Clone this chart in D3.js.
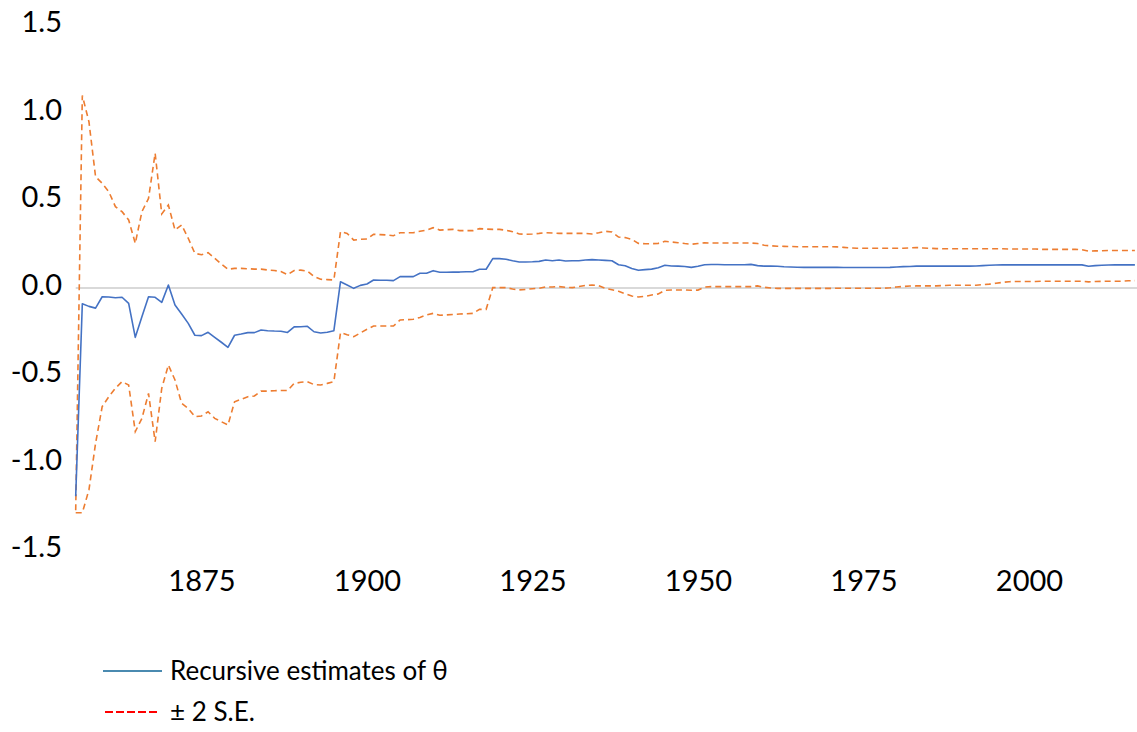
<!DOCTYPE html>
<html>
<head>
<meta charset="utf-8">
<script src="https://cdn.jsdelivr.net/npm/d3@7"></script>
<style>
  body { margin: 0; background: #fff; }
  text { font-family: Lato, "Open Sans", sans-serif; fill: #000; }
</style>
</head>
<body>
<svg id="chart" width="1137" height="732"></svg>
<script>
const firstYear = 1856
const xTicks = [1875, 1900, 1925, 1950, 1975, 2000]
const yTicks = [-1.5, -1.0, -0.5, 0.0, 0.5, 1.0, 1.5]

const theta = [
  -1.19, -0.09, -0.105, -0.115, -0.05, -0.051, -0.056, -0.053, -0.088, -0.282,
  -0.164, -0.05, -0.053, -0.082, 0.017, -0.097, -0.149, -0.202, -0.27, -0.272,
  -0.253, -0.282, -0.31, -0.339, -0.27, -0.263, -0.255, -0.255, -0.24, -0.244,
  -0.246, -0.247, -0.254, -0.222, -0.221, -0.219, -0.25, -0.257, -0.253, -0.244,
  0.036, 0.017, -0.002, 0.015, 0.023, 0.046, 0.044, 0.044, 0.042, 0.065,
  0.065, 0.065, 0.084, 0.084, 0.099, 0.09, 0.09, 0.091, 0.091, 0.093,
  0.093, 0.107, 0.107, 0.168, 0.168, 0.164, 0.156, 0.149, 0.149, 0.15,
  0.152, 0.16, 0.156, 0.16, 0.154, 0.156, 0.156, 0.16, 0.162, 0.16,
  0.158, 0.156, 0.133, 0.127, 0.112, 0.101, 0.105, 0.108, 0.116, 0.13,
  0.126, 0.125, 0.123, 0.118, 0.124, 0.133, 0.134, 0.134, 0.133, 0.133,
  0.133, 0.133, 0.135, 0.128, 0.125, 0.125, 0.124, 0.121, 0.12, 0.119,
  0.118, 0.118, 0.118, 0.118, 0.118, 0.118, 0.117, 0.117, 0.117, 0.117,
  0.117, 0.117, 0.117, 0.118, 0.12, 0.122, 0.123, 0.125, 0.125, 0.125,
  0.125, 0.125, 0.125, 0.125, 0.125, 0.125, 0.126, 0.128, 0.13, 0.131,
  0.132, 0.132, 0.132, 0.132, 0.132, 0.132, 0.132, 0.132, 0.132, 0.132,
  0.132, 0.132, 0.132, 0.124, 0.128, 0.13, 0.131, 0.132, 0.132, 0.132, 0.132
]

const upper = [
  -1.27, 1.10, 0.95, 0.636, 0.598, 0.55, 0.465, 0.436, 0.389, 0.255,
  0.436, 0.512, 0.77, 0.423, 0.474, 0.331, 0.36, 0.284, 0.198, 0.19,
  0.202, 0.17, 0.137, 0.107, 0.112, 0.112, 0.11, 0.108, 0.108, 0.103,
  0.1, 0.094, 0.076, 0.1, 0.102, 0.097, 0.065, 0.05, 0.048, 0.046,
  0.322, 0.312, 0.274, 0.278, 0.28, 0.307, 0.305, 0.303, 0.299, 0.316,
  0.316, 0.316, 0.324, 0.331, 0.345, 0.331, 0.333, 0.335, 0.328, 0.328,
  0.328, 0.339, 0.337, 0.335, 0.335, 0.33, 0.322, 0.309, 0.307, 0.309,
  0.312, 0.316, 0.314, 0.312, 0.312, 0.312, 0.312, 0.312, 0.309, 0.316,
  0.324, 0.32, 0.291, 0.288, 0.278, 0.255, 0.253, 0.253, 0.255, 0.267,
  0.263, 0.259, 0.254, 0.25, 0.254, 0.258, 0.257, 0.257, 0.257, 0.257,
  0.257, 0.257, 0.257, 0.254, 0.244, 0.241, 0.239, 0.238, 0.237, 0.236,
  0.236, 0.236, 0.236, 0.236, 0.236, 0.235, 0.232, 0.229, 0.227, 0.227,
  0.227, 0.227, 0.227, 0.227, 0.227, 0.227, 0.229, 0.231, 0.229, 0.227,
  0.225, 0.224, 0.224, 0.224, 0.224, 0.224, 0.224, 0.224, 0.224, 0.224,
  0.224, 0.223, 0.223, 0.223, 0.223, 0.223, 0.221, 0.221, 0.221, 0.221,
  0.221, 0.221, 0.219, 0.211, 0.212, 0.213, 0.214, 0.214, 0.214, 0.214, 0.214
]

const lower = [
  -1.284, -1.284, -1.154, -0.888, -0.678, -0.621, -0.573, -0.535, -0.554, -0.821,
  -0.745, -0.602, -0.878, -0.573, -0.44, -0.526, -0.659, -0.688, -0.735, -0.731,
  -0.707, -0.745, -0.764, -0.783, -0.65, -0.636, -0.621, -0.617, -0.589, -0.589,
  -0.587, -0.586, -0.586, -0.545, -0.539, -0.535, -0.552, -0.554, -0.545, -0.535,
  -0.255, -0.267, -0.278, -0.257, -0.236, -0.217, -0.217, -0.217, -0.217, -0.183,
  -0.181, -0.179, -0.168, -0.154, -0.145, -0.156, -0.154, -0.151, -0.149, -0.147,
  -0.145, -0.122, -0.122, 0.002, 0.002, 0.002, -0.006, -0.011, -0.008, -0.004,
  -0.002, 0.006, 0.006, 0.008, 0.004, 0.002, 0.008, 0.015, 0.017, 0.013,
  -0.002, -0.01, -0.019, -0.033, -0.046, -0.051, -0.048, -0.04, -0.034, -0.013,
  -0.011, -0.011, -0.011, -0.013, -0.012, 0.005, 0.008, 0.008, 0.008, 0.008,
  0.008, 0.008, 0.008, 0.012, 0.004, 0.0, -0.002, -0.002, -0.002, -0.002,
  -0.002, -0.002, -0.002, -0.002, -0.002, -0.001, -0.001, -0.001, -0.001, -0.001,
  -0.001, -0.001, -0.001, 0.001, 0.006, 0.009, 0.011, 0.012, 0.012, 0.012,
  0.012, 0.014, 0.016, 0.016, 0.016, 0.016, 0.016, 0.019, 0.022, 0.027,
  0.032, 0.036, 0.037, 0.037, 0.037, 0.037, 0.039, 0.039, 0.039, 0.039,
  0.039, 0.039, 0.039, 0.035, 0.037, 0.038, 0.039, 0.039, 0.039, 0.041, 0.042
]

const years = theta.map((d, i) => firstYear + i)

const svg = d3.select('#chart')

const x = d3.scaleLinear()
    .domain([firstYear, years[years.length - 1]])
    .range([75.7, 1134.9])
const y = d3.scaleLinear()
    .domain([-1.5, 1.5])
    .range([550.5, 25.5])

// y labels only, no axis line or ticks; hyphen instead of unicode minus
const yAxis = svg.append('g')
    .attr('transform', 'translate(62,0)')
    .call(d3.axisLeft(y).tickValues(yTicks).tickSize(0).tickPadding(0)
        .tickFormat(d => d3.format('.1f')(d).replace('−', '-')))
yAxis.select('.domain').remove()
yAxis.selectAll('text')
    .attr('font-size', 29)
    .attr('dy', 6)
    .attr('font-family', 'Lato')
    .attr('fill', '#000')

const xAxis = svg.append('g')
    .attr('transform', 'translate(0,570)')
    .call(d3.axisBottom(x).tickValues(xTicks).tickSize(0).tickPadding(0).tickFormat(d3.format('d')))
xAxis.select('.domain').remove()
xAxis.selectAll('text')
    .attr('font-size', 29)
    .attr('dy', 21)
    .attr('font-family', 'Lato')
    .attr('fill', '#000')

svg.append('line')
    .attr('x1', x(firstYear))
    .attr('x2', 1137)
    .attr('y1', y(0))
    .attr('y2', y(0))
    .attr('stroke', '#b4b4b4')
    .attr('stroke-width', 1.2)

const line = d3.line()
    .x((d, i) => x(years[i]))
    .y(d => y(d))

svg.append('path')
    .attr('d', line(upper))
    .attr('fill', 'none')
    .attr('stroke', '#ED7D31')
    .attr('stroke-width', 1.6)
    .attr('stroke-dasharray', '6,4')

svg.append('path')
    .attr('d', line(lower))
    .attr('fill', 'none')
    .attr('stroke', '#ED7D31')
    .attr('stroke-width', 1.6)
    .attr('stroke-dasharray', '6,4')

svg.append('path')
    .attr('d', line(theta))
    .attr('fill', 'none')
    .attr('stroke', '#4472C4')
    .attr('stroke-width', 1.6)
    .attr('stroke-linejoin', 'round')

// legend
const legend = svg.append('g')
legend.append('line')
    .attr('x1', 103).attr('x2', 162)
    .attr('y1', 671).attr('y2', 671)
    .attr('stroke', '#4A8AB0')
    .attr('stroke-width', 2)
legend.append('text')
    .attr('x', 170).attr('y', 680)
    .attr('font-size', 26)
    .text('Recursive estimates of θ')
legend.append('line')
    .attr('x1', 105).attr('x2', 160)
    .attr('y1', 712).attr('y2', 712)
    .attr('stroke', '#FF0000')
    .attr('stroke-width', 2)
    .attr('stroke-dasharray', '8,3')
legend.append('text')
    .attr('x', 170).attr('y', 721)
    .attr('font-size', 26)
    .text('± 2 S.E.')
</script>
</body>
</html>
